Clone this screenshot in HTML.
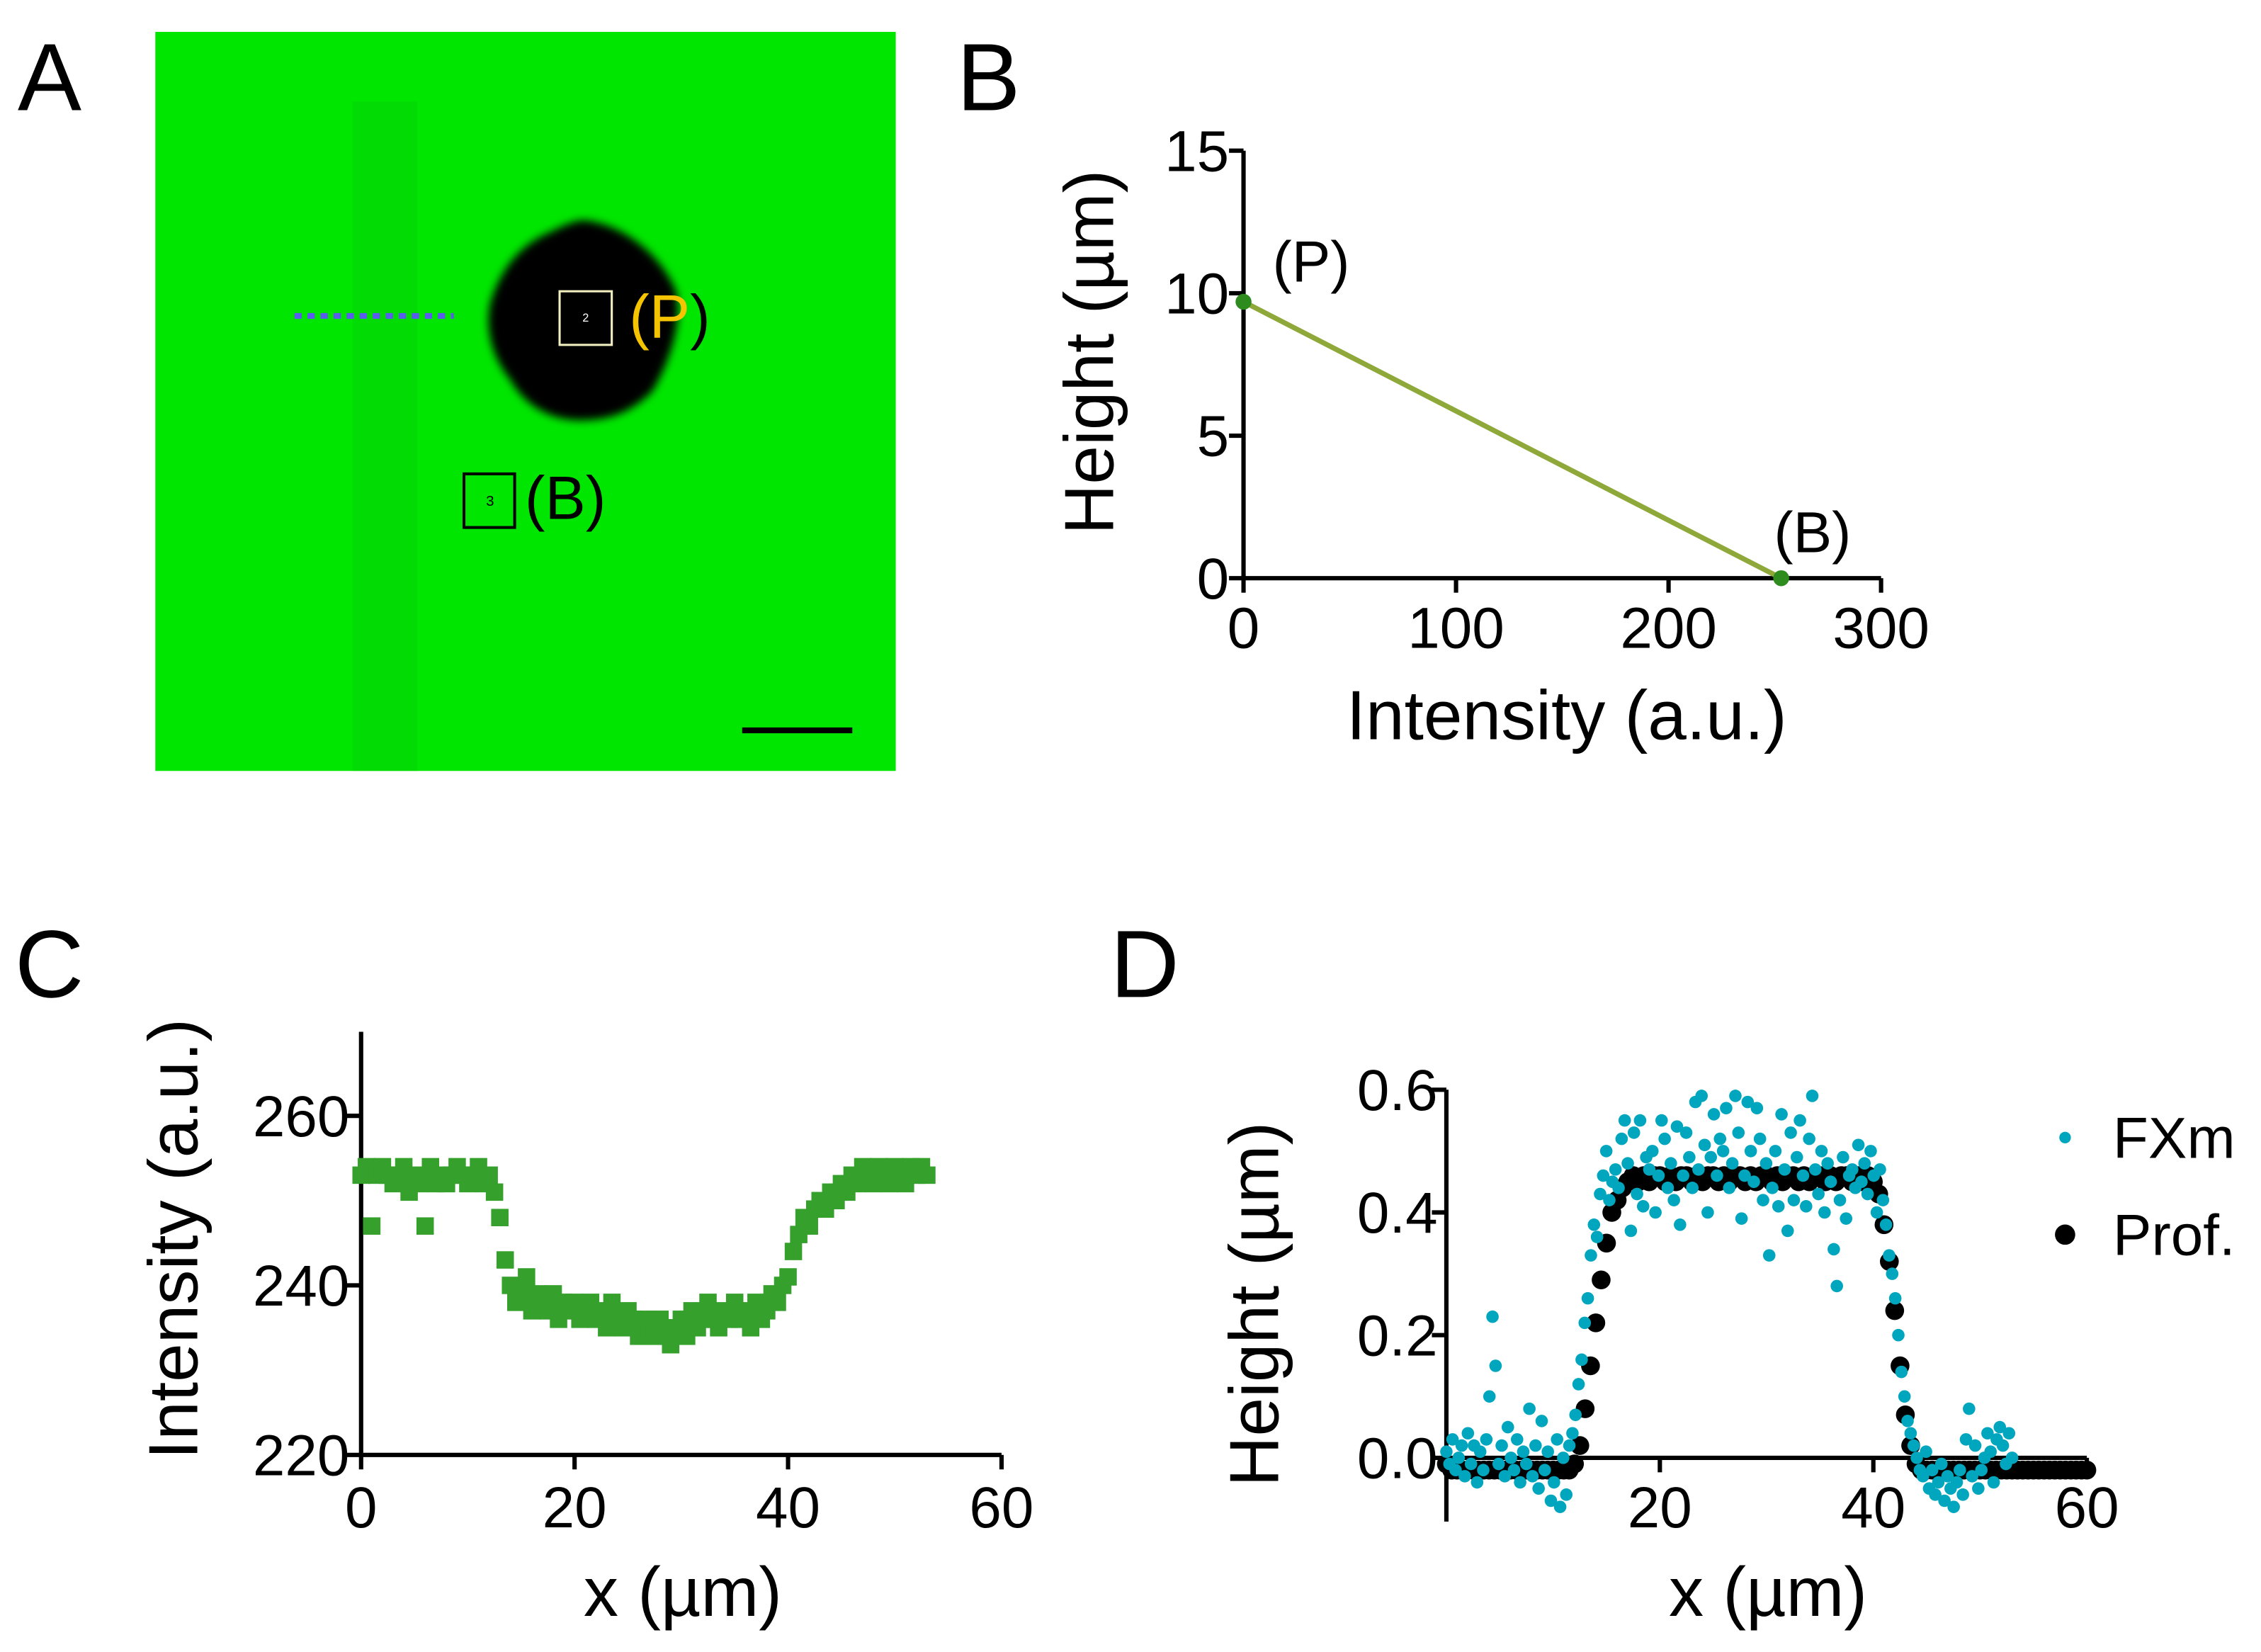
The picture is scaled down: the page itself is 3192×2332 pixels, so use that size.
<!DOCTYPE html>
<html><head><meta charset="utf-8">
<style>
html,body{margin:0;padding:0;background:#fff;}
svg{display:block;font-family:"Liberation Sans",Arial,sans-serif;}
</style></head>
<body>
<svg id="fig" width="3192" height="2332" viewBox="0 0 1560 1140" xmlns="http://www.w3.org/2000/svg">
  <defs><filter id="blur" x="-20%" y="-20%" width="140%" height="140%"><feGaussianBlur stdDeviation="3"/></filter></defs>
  <rect width="1560" height="1140" fill="#fff"/>
  <!-- Panel A -->
  <text x="12" y="76" font-size="66">A</text>
  <g>
    <rect x="107" y="22" width="511" height="510" fill="#00e600"/>
    <rect x="243" y="70" width="45" height="462" fill="#04d506" opacity="0.6"/>
    <path filter="url(#blur)" d="M403,152 C430,155 455,175 466,200 C472,220 462,250 450,270 C435,285 420,290 400,290 C380,290 362,280 352,262 C338,245 335,225 338,210 C345,185 360,168 380,160 C390,155 397,152 403,152 Z" fill="#000"/>
    <line x1="203" y1="218" x2="313" y2="218" stroke="#5a5cf0" stroke-width="4" stroke-dasharray="5,4"/>
    <rect x="386" y="201" width="36" height="37" fill="none" stroke="#f2f0c0" stroke-width="1.5"/>
    <text x="404" y="222" font-size="8" fill="#fff" text-anchor="middle">2</text>
    <text x="434" y="233" font-size="42"><tspan fill="#f5c400">(P</tspan><tspan fill="#000">)</tspan></text>
    <rect x="320" y="327" width="35" height="37" fill="none" stroke="#000" stroke-width="2"/>
    <text x="338" y="349" font-size="10" fill="#000" text-anchor="middle">3</text>
    <text x="362" y="358" font-size="42" fill="#000">(B)</text>
    <rect x="512" y="502" width="76" height="4" fill="#000"/>
  </g>
  <g id="panelB"></g>
  <g id="panelC"></g>
  <g id="panelD"></g>
</svg>
<script>
// ---------- Data ----------
const calIntensity = [0, 253];
const calHeight = [9.7, 0];
const calLabels = ["(P)", "(B)"];
const bXTicks = [0, 100, 200, 300];
const bYTicks = [0, 5, 10, 15];

const cIntensity = [253,254,247,253,254,253,252,253,254,251,253,252,247,254,252,253,252,253,254,253,252,253,254,252,253,
251,248,243,240,238,239,241,237,239,238,237,239,236,238,237,238,236,237,238,236,237,235,238,236,235,237,236,234,236,235,234,236,234,233,235,236,234,237,235,236,238,236,235,237,236,238,236,237,235,238,236,237,239,238,240,
241,244,246,248,247,249,250,249,251,250,252,251,253,252,254,253,252,254,253,252,254,253,252,254,253,254,253];
const cXTicks = [0, 20, 40, 60];
const cYTicks = [220, 240, 260];

const profHeight = [-0.01,-0.02,-0.02,-0.02,-0.02,-0.02,-0.02,-0.02,-0.02,-0.02,-0.02,-0.02,-0.02,-0.02,-0.02,-0.02,-0.02,-0.02,-0.02,-0.02,-0.02,-0.02,-0.02,-0.02,
-0.01,0.02,0.08,0.15,0.22,0.29,0.35,0.40,0.42,0.44,0.45,
0.46,0.45,0.46,0.45,0.46,0.46,0.45,0.46,0.45,0.46,0.46,0.45,0.46,0.45,0.46,0.46,0.45,0.46,0.45,0.46,0.46,0.45,0.46,0.45,0.46,0.46,0.45,0.46,0.45,0.46,0.46,0.45,0.46,0.45,0.46,0.46,0.45,0.46,0.45,0.46,0.46,0.45,0.46,0.45,0.46,
0.45,0.43,0.38,0.32,0.24,0.15,0.07,0.02,-0.01,
-0.02,-0.02,-0.02,-0.02,-0.02,-0.02,-0.02,-0.02,-0.02,-0.02,-0.02,-0.02,-0.02,-0.02,-0.02,-0.02,-0.02,-0.02,-0.02,-0.02,-0.02,-0.02,-0.02,-0.02,-0.02,-0.02,-0.02,-0.02,-0.02,-0.02,-0.02,-0.02];
const fxmHeight = [0.01,-0.01,0.03,-0.02,0.0,0.02,-0.03,0.04,-0.01,0.02,-0.04,0.01,-0.02,0.03,0.10,0.23,0.15,-0.01,0.02,-0.03,0.05,0.0,-0.02,0.03,-0.04,0.01,-0.01,0.08,-0.03,0.02,-0.05,0.06,-0.02,0.01,-0.07,-0.04,0.03,-0.08,0.0,-0.06,0.02,
0.04,0.07,0.12,0.16,0.22,0.26,0.33,0.38,0.36,0.43,0.46,0.50,0.42,0.45,0.47,0.44,0.52,
0.55,0.48,0.37,0.53,0.43,0.55,0.41,0.49,0.47,0.50,0.40,0.46,0.55,0.52,0.44,0.48,0.42,0.54,0.38,0.46,0.53,0.49,0.44,0.58,0.47,0.59,0.51,0.40,0.49,0.56,0.46,0.52,0.50,0.57,0.44,0.48,0.59,0.53,0.39,0.46,0.58,0.50,0.45,0.57,0.52,0.42,0.48,0.33,0.44,0.50,0.41,0.56,0.47,0.37,0.53,0.42,0.49,0.55,0.46,0.41,0.52,0.59,0.47,0.43,0.50,0.40,0.48,0.45,0.34,0.28,0.42,0.49,0.39,0.46,0.47,0.44,
0.51,0.45,0.48,0.43,0.50,0.46,0.40,0.47,
0.42,0.38,0.33,0.30,0.26,0.20,0.14,0.10,0.06,0.04,0.02,0.0,-0.02,
-0.03,0.01,-0.05,-0.02,-0.06,-0.04,-0.01,-0.07,-0.03,-0.05,-0.08,-0.04,-0.02,-0.06,0.03,0.08,-0.03,0.02,-0.05,-0.02,0.0,0.04,0.01,-0.04,0.03,0.05,0.02,-0.01,0.04,0.0];
const dXTicks = [20, 40, 60];
const dYTicks = ["0.0", "0.2", "0.4", "0.6"];

// ---------- helpers ----------
const NS = "http://www.w3.org/2000/svg";
function mk(parent, tag, attrs, text) {
  const e = document.createElementNS(NS, tag);
  for (const k in attrs) e.setAttribute(k, attrs[k]);
  if (text !== undefined) e.textContent = text;
  parent.appendChild(e);
  return e;
}
function lin(d0, d1, r0, r1) { return v => r0 + (v - d0) * (r1 - r0) / (d1 - d0); }
const TF = 40, LF = 48;

// ---------- Panel B ----------
(function(){
  const g = document.getElementById("panelB");
  const x = lin(0, 300, 858, 1298), y = lin(0, 15, 399, 104);
  let t = mk(g, "text", {x: 660, y: 76, "font-size": 66}, "B");
  
  
  let ax = mk(g, "path", {d: `M${x(0)},${y(15)} V${y(0)} H${x(300)}`, fill: "none", stroke: "#000", "stroke-width": 3});
  
  
  bYTicks.forEach(v => {
    mk(g, "line", {x1: x(0) - 10, x2: x(0), y1: y(v), y2: y(v), stroke: "#000", "stroke-width": 3});
    const l = mk(g, "text", {x: x(0) - 10, y: y(v) + 14, "font-size": TF, "text-anchor": "end"}, v);
    
    
  });
  bXTicks.forEach(v => {
    mk(g, "line", {x1: x(v), x2: x(v), y1: y(0), y2: y(0) + 10, stroke: "#000", "stroke-width": 3});
    const l = mk(g, "text", {x: x(v), y: y(0) + 48, "font-size": TF, "text-anchor": "middle"}, v);
    
    
  });
  const ln = mk(g, "line", {x1: x(calIntensity[0]), y1: y(calHeight[0]), x2: x(calIntensity[1]), y2: y(calHeight[1]), stroke: "#8fa83a", "stroke-width": 3.5});
  
  
  calIntensity.forEach((v, i) => {
    const c = mk(g, "circle", {cx: x(v), cy: y(calHeight[i]), r: 5.5, fill: "#2e8b1e"});
    
    
    const l = mk(g, "text", {x: x(v) + (i === 0 ? 20 : -5), y: y(calHeight[i]) - (i === 0 ? 14 : 18), "font-size": TF}, calLabels[i]);
    
    
  });
  const yl = mk(g, "text", {transform: "translate(768,243) rotate(-90)", "font-size": LF, "text-anchor": "middle"}, "Height (µm)");
  
  
  const xl = mk(g, "text", {x: 1081, y: 510, "font-size": LF, "text-anchor": "middle"}, "Intensity (a.u.)");
  
  
})();

// ---------- Panel C ----------
(function(){
  const g = document.getElementById("panelC");
  const x = lin(0, 60, 249, 691), y = lin(220, 260, 1004, 770);
  let t = mk(g, "text", {x: 10, y: 688, "font-size": 66}, "C");
  
  
  let ax = mk(g, "path", {d: `M${x(0)},712 V${y(220)} H${x(60)}`, fill: "none", stroke: "#000", "stroke-width": 3});
  
  
  cYTicks.forEach(v => {
    mk(g, "line", {x1: x(0) - 10, x2: x(0), y1: y(v), y2: y(v), stroke: "#000", "stroke-width": 3});
    const l = mk(g, "text", {x: x(0) - 8, y: y(v) + 14, "font-size": TF, "text-anchor": "end"}, v);
    
    
  });
  cXTicks.forEach(v => {
    mk(g, "line", {x1: x(v), x2: x(v), y1: y(220), y2: y(220) + 10, stroke: "#000", "stroke-width": 3});
    const l = mk(g, "text", {x: x(v), y: y(220) + 50, "font-size": TF, "text-anchor": "middle"}, v);
    
    
  });
  cIntensity.forEach((v, i) => {
    const xv = i * 0.5;
    const r = mk(g, "rect", {x: x(xv) - 6, y: y(v) - 6, width: 12, height: 12, fill: "#35a02c"});
    
    
  });
  const yl = mk(g, "text", {transform: "translate(136,855) rotate(-90)", "font-size": LF, "text-anchor": "middle"}, "Intensity (a.u.)");
  
  
  const xl = mk(g, "text", {x: 471, y: 1115, "font-size": LF, "text-anchor": "middle"}, "x (µm)");
  
  
})();

// ---------- Panel D ----------
(function(){
  const g = document.getElementById("panelD");
  const x = lin(0, 60, 998, 1440), y = lin(0, 0.6, 1006, 752);
  let t = mk(g, "text", {x: 766, y: 688, "font-size": 66}, "D");
  
  
  let ax = mk(g, "path", {d: `M${x(0)},${y(0.6)} V1050 M${x(0)},${y(0)} H${x(60)}`, fill: "none", stroke: "#000", "stroke-width": 3});
  
  
  dYTicks.forEach(s => {
    const v = parseFloat(s);
    mk(g, "line", {x1: x(0) - 10, x2: x(0), y1: y(v), y2: y(v), stroke: "#000", "stroke-width": 3});
    const l = mk(g, "text", {x: x(0) - 6, y: y(v) + 14, "font-size": TF, "text-anchor": "end"}, s);
    
    
  });
  dXTicks.forEach(v => {
    mk(g, "line", {x1: x(v), x2: x(v), y1: y(0), y2: y(0) + 10, stroke: "#000", "stroke-width": 3});
    const l = mk(g, "text", {x: x(v), y: y(0) + 48, "font-size": TF, "text-anchor": "middle"}, v);
    
    
  });
  profHeight.forEach((v, i) => {
    const c = mk(g, "circle", {cx: x(i * 0.5), cy: y(v), r: 6.5, fill: "#000"});
    
    
  });
  const n = fxmHeight.length;
  fxmHeight.forEach((v, i) => {
    const c = mk(g, "circle", {cx: x(i * 53 / (n - 1)), cy: y(v), r: 4.3, fill: "#00a6be"});
    
    
  });
  let c1 = mk(g, "circle", {cx: 1425, cy: 785, r: 4, fill: "#00a6be"});
  
  
  let l1 = mk(g, "text", {x: 1458, y: 799, "font-size": TF}, "FXm");
  
  
  let c2 = mk(g, "circle", {cx: 1425, cy: 852, r: 7, fill: "#000"});
  
  
  let l2 = mk(g, "text", {x: 1458, y: 866, "font-size": TF}, "Prof.");
  
  
  const yl = mk(g, "text", {transform: "translate(882,900) rotate(-90)", "font-size": LF, "text-anchor": "middle"}, "Height (µm)");
  
  
  const xl = mk(g, "text", {x: 1220, y: 1115, "font-size": LF, "text-anchor": "middle"}, "x (µm)");
  
  
})();
</script>
</body></html>
